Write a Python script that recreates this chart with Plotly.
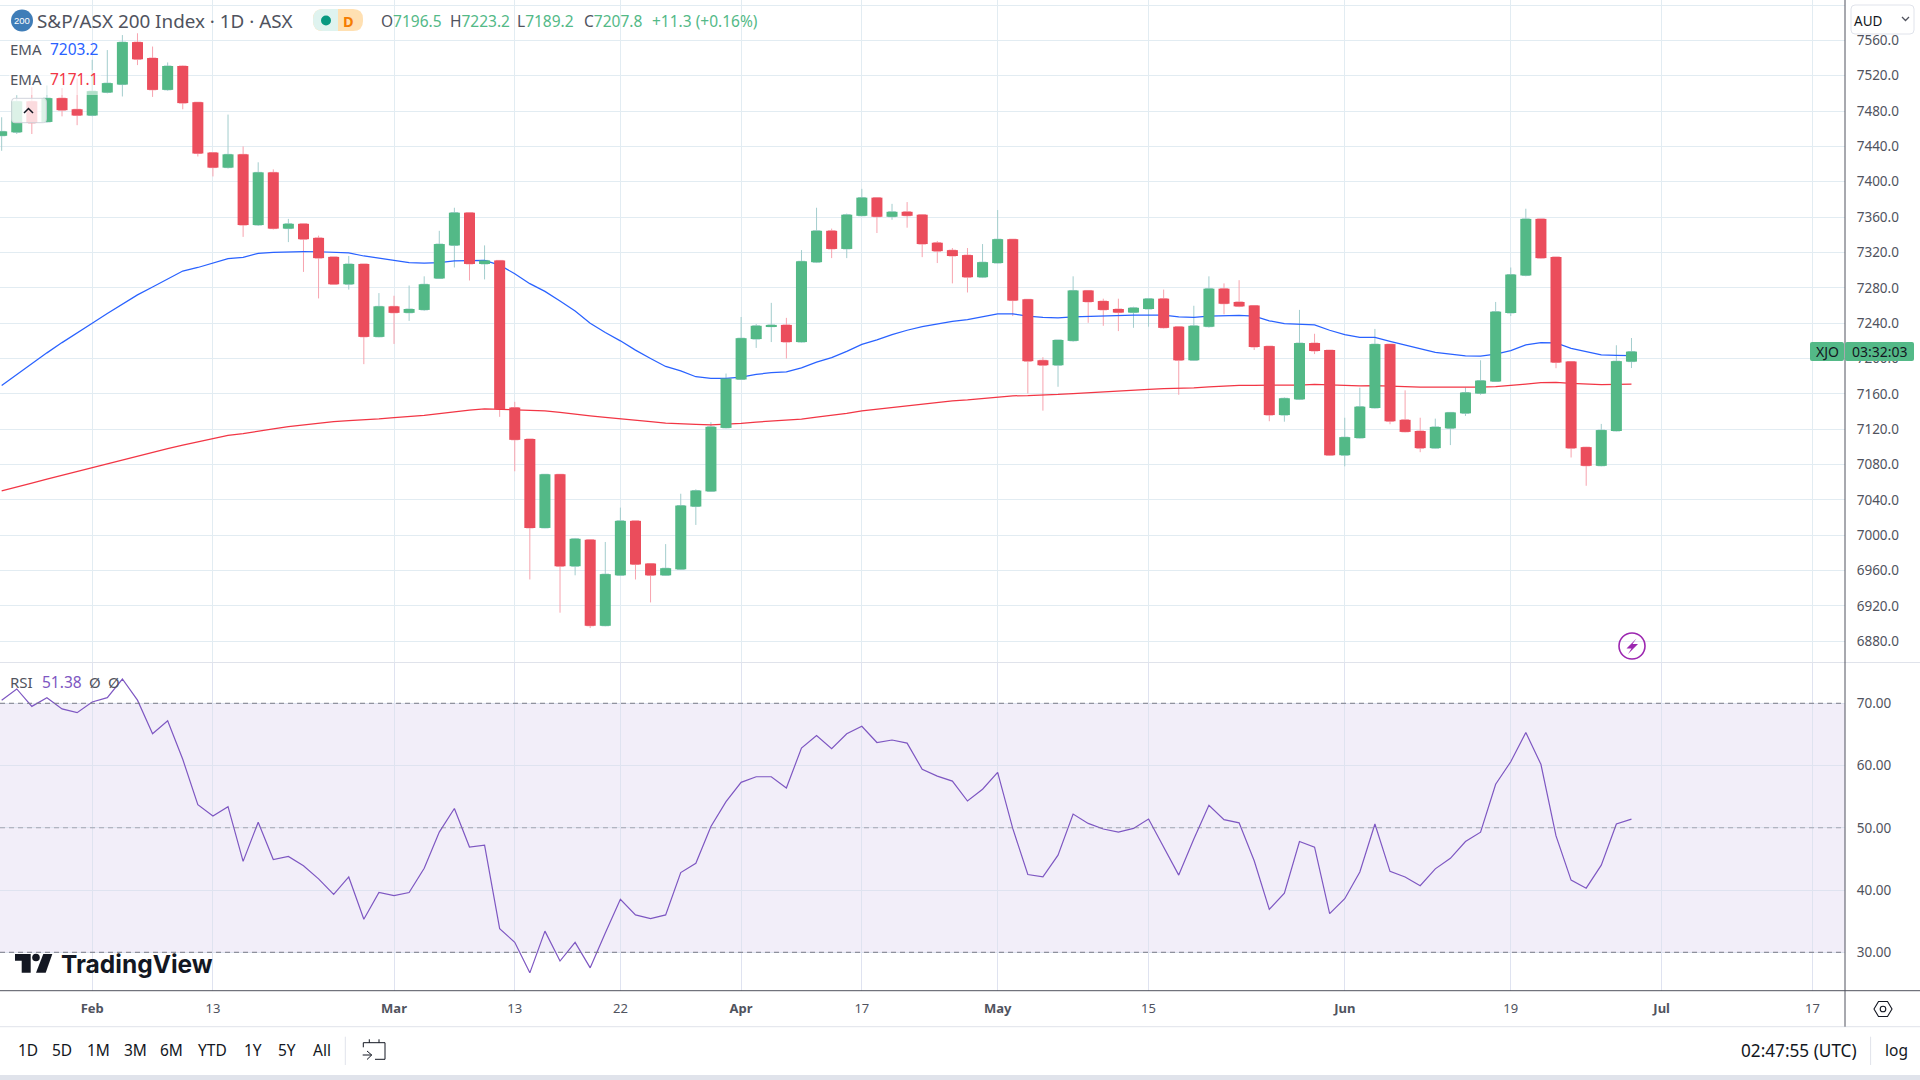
import plotly.graph_objects as go

W, H = 1920, 1080
FONT = "Noto Sans"
GREEN = "#53B987"
RED = "#EB4D5C"
WICK_UP = "#A3CDCD"
WICK_DN = "#F7A3AE"
TEXT = "#50535E"
DARK = "#131722"
PURPLE = "#7E57C2"
BLUE = "#2962FF"
EMA_RED = "#F23645"

bars = list(range(109))

opens = [7452,7456,7491,7467.7,7494.6,7482,7475,7501,7510,7558,7540,7504,7531,7490,7433,7416,7431,7351,7410.6,7347,
7352.4,7336.5,7315,7284,7307,7224.5,7259,7251.7,7255,7290.6,7328,7365,7307,7311,7144.5,7109,7008.3,7069,6965,6995,
6897.6,6954.7,7016.3,6968,6954.7,6961.5,7032.5,7049.7,7121.5,7176.3,7222,7236,7238,7218.6,7309,7344.5,7324,7361.5,7382,7360.4,
7366,7362.7,7331,7322.6,7317,7292,7308,7335,7267,7198,7192.4,7220,7277,7265,7256,7252,7256,7267.7,7236,7198,
7236,7279,7264,7260,7214,7136,7153.8,7217.5,7209.5,7090.6,7110,7144,7216.3,7130.6,7118,7098.6,7121,7138,7160.4,7174,
7251.5,7294,7358,7315,7196.6,7099.7,7078.6,7118,7196.5]
highs = [7473,7498,7507,7509,7506,7517,7538,7549,7566,7568,7553,7535,7531.5,7490,7433,7476,7440,7422,7414,7358,
7352.5,7339,7315,7316,7307,7274,7271,7282.6,7293,7344.5,7370.6,7365,7328,7311,7151,7109,7069,7069,6997,6995,
6992.4,7031.3,7016.3,6968,6990,7047,7052,7128,7183,7247,7239,7263,7246,7322.7,7370.6,7347,7364,7392,7382,7375,
7377,7363,7333,7325,7325,7329.5,7368,7335,7267,7201.5,7221,7293,7277,7267.7,7267.7,7258.6,7268,7278,7236,7259.7,
7293,7285,7288.6,7260,7214,7156,7255,7228,7209.5,7133,7167,7233.5,7216.3,7164,7133,7132,7139.5,7167,7198,7264,
7303,7369.5,7358,7315,7197,7100,7126,7215,7223.2]
lows = [7435,7454,7454,7467,7474,7464,7474,7500,7496.5,7532,7496,7503,7482,7428.6,7406,7415,7337.6,7350,7346,7331.7,
7298,7268,7284,7278,7193.6,7224,7216.5,7242.6,7254,7290,7303,7288.3,7289.5,7134,7072.4,6950,7008,6912.4,6954.7,6895,
6897,6954,6950,6924,6954,6961,7011.7,7049,7121,7176,7212,7218.6,7200,7218,7308,7313.6,7313.6,7361,7342,7357,
7348,7314.7,7308,7285,7274.7,7291,7307.5,7248,7160.4,7141,7168,7219,7240.4,7237,7231,7234.7,7236,7234,7159,7197.5,
7235,7250,7258,7209.6,7129,7128.5,7153,7205,7090,7078,7109.5,7143.5,7125.6,7116.5,7094,7098,7102,7135,7159,7173.5,
7248,7293,7313,7189,7088,7056,7078,7117.5,7189.2]
closes = [7457,7491,7466.5,7494.6,7481,7475,7502.5,7511.6,7558,7538.6,7504,7531,7489,7432,7416,7431,7351,7410.6,7347,7352.4,
7335,7313.6,7284,7307,7224.5,7259,7251.7,7256,7284,7329.5,7365,7307,7311,7143,7108,7008.3,7069,6965,6996,6897.6,
6956,7016.3,6967,6954.7,6962.7,7033.6,7050.6,7122.7,7177.4,7223,7237,7238,7218.6,7310,7344.5,7324,7362.7,7382,7360.4,7366,
7361.5,7329.5,7321.5,7316,7292,7309,7335,7265.6,7197,7192.4,7221,7277,7264,7255,7252,7257.4,7267.7,7234.7,7198,7237,
7279,7262,7259,7213,7136,7155,7217.5,7208.5,7090.6,7111,7145.5,7216.3,7129,7117,7098.6,7122.6,7139,7161.5,7175,7253,
7295,7358,7313.6,7195.5,7098.6,7078.6,7119,7197,7207.8]

ema_fast = [7169.5,7182,7194,7206.4,7218,7228.6,7240,7251,7262,7272,7281,7290,7299,7303,7307.6,7313,7314.4,7319,7320,7320.8,
7321,7320.8,7320,7319.6,7316,7313.6,7310.5,7308.6,7308,7308.6,7310.5,7311,7311,7305.6,7296,7284.7,7276,7265,7253.7,7240,
7229.4,7220,7209.5,7200,7191,7186,7179.4,7177.5,7177.5,7179,7182,7184,7185,7189.5,7196,7201,7208,7216,7221,7227,
7232,7236,7239,7242,7244,7247,7250.6,7250.6,7248,7246.5,7246,7247,7247.6,7248.3,7248.7,7249,7249,7249,7247,7246.5,
7248,7248.4,7248.7,7248,7242.6,7239.6,7239,7238,7232,7227,7224,7224,7219.5,7215.4,7211,7207,7205,7203,7202.6,7205,
7209,7215.4,7218,7217.6,7211.5,7208,7204,7203.6,7203.2]
ema_slow = [7050.3,7054.4,7059,7063.6,7068,7072.4,7076.6,7081,7085.4,7090,7093.8,7098,7102,7105.5,7109,7113,7115,7118,7120.4,7123,
7125,7126.6,7128.5,7129.7,7130.4,7131.6,7133,7134.2,7135.7,7137.6,7140,7141.7,7143,7142.6,7142,7141.5,7140.7,7139,7137.4,7135,
7133.3,7132,7130.4,7128.6,7127,7126,7125.6,7125,7125.6,7126.7,7128,7129,7130,7131.5,7133.7,7135.6,7137.8,7140.7,7142.6,7144.8,
7147,7148.5,7150.4,7152.2,7153.3,7154.8,7156.6,7157.8,7158,7158.5,7159.3,7160.4,7161.5,7162.2,7163,7164,7165.2,7166,7166,7166.7,
7167.8,7169,7169.7,7169.7,7169.7,7169.7,7170,7170.8,7170,7169.3,7169,7169.3,7169,7168.2,7167.5,7167.5,7167,7167,7167.5,7168.2,
7169.3,7171,7172.7,7173,7172,7171,7170.4,7170.8,7171.1]
rsi = [70.5,72.3,69.5,70.9,69.1,68.5,70.2,70.9,73.9,70.5,65.1,67.2,61,53.7,51.9,53.4,44.6,50.9,44.9,45.4,
43.9,41.8,39.3,42.1,35.3,39.6,39.1,39.6,43.5,49.3,53.1,46.9,47.2,33.8,31.6,26.7,33.4,28.6,31.6,27.5,
33.1,38.5,36,35.4,36,42.8,44.3,50.2,54.2,57.3,58.2,58.2,56.4,62.8,64.8,62.7,65.1,66.3,63.7,64.1,
63.6,59.4,58.3,57.5,54.3,56.2,58.9,49.9,42.5,42.1,45.6,52.2,50.7,49.8,49.3,49.9,51.4,46.9,42.4,48.2,
53.6,51.3,50.8,44.7,36.9,39.5,47.8,46.9,36.2,38.6,42.9,50.6,43,42.1,40.7,43.4,45.1,47.8,49.3,57,
60.6,65.3,60.2,48.7,41.6,40.3,44,50.6,51.38]

x_tick_bars = [6,14,26,34,41,49,57,66,76,89,100,110,120]
x_tick_labels = ["<b>Feb</b>","13","<b>Mar</b>","13","22","<b>Apr</b>","17","<b>May</b>","15","<b>Jun</b>","19","<b>Jul</b>","17"]
price_ticks = list(range(6880, 7601, 40))
price_labels = [f"{v:.1f}" for v in price_ticks]
rsi_ticks = [30, 40, 50, 60, 70]
rsi_labels = [f"{v:.2f}" for v in rsi_ticks]
range_buttons = ["1D","5D","1M","3M","6M","YTD","1Y","5Y","All"]
range_button_x = [27.8,62,98.8,135,171.4,212.7,252.7,287,321.6]
ohlc_letters = ["O", "H", "L", "C"]
ohlc_values = ["7196.5", "7223.2", "7189.2", "7207.8"]
ohlc_x = [381, 450, 516.5, 584]
change_text = "+11.3 (+0.16%)"

PX = lambda x: x / W
PY = lambda y: 1 - y / H
RIGHT = 1845
PANE_BOTTOM = 662
RSI_TOP = 663
RSI_BOTTOM = 990.7

fig = go.Figure()
body_top = [max(o, c) for o, c in zip(opens, closes)]
body_bot = [min(o, c) for o, c in zip(opens, closes)]
body_h = [t - b for t, b in zip(body_top, body_bot)]
body_col = [GREEN if c >= o else RED for o, c in zip(opens, closes)]

fig.add_trace(go.Candlestick(x=bars, open=opens, high=highs, low=lows, close=closes, yaxis="y", xaxis="x", showlegend=False,
    hoverinfo="skip", whiskerwidth=0,
    increasing=dict(line=dict(color=WICK_UP, width=1), fillcolor=GREEN),
    decreasing=dict(line=dict(color=WICK_DN, width=1), fillcolor=RED)))
fig.add_trace(go.Scatter(x=bars, y=ema_slow, mode="lines", line=dict(color=EMA_RED, width=1.25), yaxis="y", xaxis="x", showlegend=False, hoverinfo="skip"))
fig.add_trace(go.Scatter(x=bars, y=ema_fast, mode="lines", line=dict(color=BLUE, width=1.25), yaxis="y", xaxis="x", showlegend=False, hoverinfo="skip"))
fig.add_trace(go.Bar(x=bars, y=body_h, base=body_bot, width=0.73, marker=dict(color=body_col, line=dict(width=0)),
                     yaxis="y3", xaxis="x", showlegend=False, hoverinfo="skip"))
fig.add_trace(go.Scatter(x=bars, y=rsi, mode="lines", line=dict(color=PURPLE, width=1.2), yaxis="y2", xaxis="x2", showlegend=False, hoverinfo="skip"))

shapes = []
def rect(x0, y0, x1, y1, fill, line="rgba(0,0,0,0)", lw=0):
    shapes.append(dict(type="rect", xref="paper", yref="paper", x0=PX(x0), x1=PX(x1), y0=PY(y0), y1=PY(y1),
                       fillcolor=fill, line=dict(color=line, width=lw)))
def hline(y, x0, x1, color, lw=1, dash="solid"):
    shapes.append(dict(type="line", xref="paper", yref="paper", x0=PX(x0), x1=PX(x1), y0=PY(y), y1=PY(y),
                       line=dict(color=color, width=lw, dash=dash)))
def vline(x, y0, y1, color, lw=1):
    shapes.append(dict(type="line", xref="paper", yref="paper", x0=PX(x), x1=PX(x), y0=PY(y0), y1=PY(y1),
                       line=dict(color=color, width=lw)))
def poly(points, fill="rgba(0,0,0,0)", line="rgba(0,0,0,0)", lw=0, close=True):
    d = "M " + " L ".join(f"{PX(x):.6f},{PY(y):.6f}" for x, y in points) + (" Z" if close else "")
    shapes.append(dict(type="path", xref="paper", yref="paper", path=d, fillcolor=fill, line=dict(color=line, width=lw)))
def rrect(x0, y0, x1, y1, r, fill, line="rgba(0,0,0,0)", lw=0):
    X = PX; Y = PY
    d = (f"M {X(x0+r)},{Y(y0)} L {X(x1-r)},{Y(y0)} Q {X(x1)},{Y(y0)} {X(x1)},{Y(y0+r)} L {X(x1)},{Y(y1-r)} "
         f"Q {X(x1)},{Y(y1)} {X(x1-r)},{Y(y1)} L {X(x0+r)},{Y(y1)} Q {X(x0)},{Y(y1)} {X(x0)},{Y(y1-r)} "
         f"L {X(x0)},{Y(y0+r)} Q {X(x0)},{Y(y0)} {X(x0+r)},{Y(y0)} Z")
    shapes.append(dict(type="path", xref="paper", yref="paper", path=d, fillcolor=fill, line=dict(color=line, width=lw)))
def circle(cx, cy, r, fill="rgba(0,0,0,0)", line="rgba(0,0,0,0)", lw=0):
    shapes.append(dict(type="circle", xref="paper", yref="paper", x0=PX(cx-r), x1=PX(cx+r), y0=PY(cy+r), y1=PY(cy-r),
                       fillcolor=fill, line=dict(color=line, width=lw)))

# RSI band and levels
shapes.append(dict(type="rect", xref="x2 domain", yref="y2", x0=0, x1=1, y0=30, y1=70, layer="below",
                   fillcolor="rgba(126,87,194,0.1)", line=dict(width=0)))
for lvl, col in [(70, "#787B86"), (30, "#787B86"), (50, "rgba(120,123,134,0.6)")]:
    shapes.append(dict(type="line", xref="x2 domain", yref="y2", x0=0, x1=1, y0=lvl, y1=lvl, line=dict(color=col, width=1, dash="5px,4px")))

# frame lines
hline(662.5, 0, W, "#E0E3EB")
hline(990.7, 0, W, "#50535E")
hline(1026.7, 0, W, "#E0E3EB")
vline(RIGHT, 0, 1026.7, "#50535E")
rect(0, 1075, W, 1080, "#E0E3EB")

# legend backdrop and collapse button
rect(9, 70, 101, 95, "rgba(255,255,255,0.55)")
rrect(11.7, 98.3, 46.3, 122.7, 3, "rgba(255,255,255,0.8)", "#D1D4DC", 1)
poly([(24, 113), (28.5, 108.5), (33, 113)], line=DARK, lw=1.5, close=False)

# symbol badge and status pill
circle(22, 20.5, 11, fill="#3F7DB8")
rrect(313, 9, 363, 31, 10, "#FFE0B2")
d = (f"M {PX(338)},{PY(9)} L {PX(323)},{PY(9)} Q {PX(313)},{PY(9)} {PX(313)},{PY(20)} "
     f"Q {PX(313)},{PY(31)} {PX(323)},{PY(31)} L {PX(338)},{PY(31)} Z")
shapes.append(dict(type="path", xref="paper", yref="paper", path=d, fillcolor="#DFF3EF", line=dict(width=0)))
circle(326, 20.5, 5, fill="#089981")

# currency box
rrect(1851, 5, 1914, 34, 4, "#FFFFFF", "#E0E3EB", 1)
poly([(1902, 17), (1905.5, 20.5), (1909, 17)], line="#50535E", lw=1.3, close=False)

# last price tag
rrect(1810, 342, 1844, 361, 2, GREEN)
rrect(1845, 342, 1914, 361, 2, GREEN)

# alert icon
circle(1632, 646, 13, line="#9C27B0", lw=1.6)
poly([(1636.5, 638.5), (1626.5, 648.5), (1631.5, 648.5), (1628, 654), (1638, 644), (1632.5, 644)], fill="#9C27B0")

# TradingView logo
poly([(15, 954), (30.7, 954), (30.7, 972.7), (21.7, 972.7), (21.7, 960.7), (15, 960.7)], fill=DARK)
circle(36, 957.5, 3.8, fill=DARK)
poly([(43.3, 954), (52.3, 954), (45.7, 972.7), (36, 972.7)], fill=DARK)

# toolbar
vline(345.3, 1036.7, 1065, "#E0E3EB")
vline(1870.6, 1036.7, 1065, "#E0E3EB")
poly([(363.3, 1047.3), (363.3, 1042.7), (385, 1042.7), (385, 1059.3), (375, 1059.3)], line=DARK, lw=1, close=False)
vline(369.3, 1039.3, 1042.7, DARK)
vline(379, 1039.3, 1042.7, DARK)
poly([(362.7, 1055), (371.7, 1055)], line=DARK, lw=1, close=False)
poly([(367, 1051), (371.7, 1055), (367, 1059.5)], line=DARK, lw=1, close=False)
poly([(1874, 1009), (1878.5, 1001.5), (1887.5, 1001.5), (1892, 1009), (1887.5, 1016.5), (1878.5, 1016.5)], line=DARK, lw=1.1)
circle(1883, 1009, 2.8, line=DARK, lw=1.1)

anns = []
def text(s, x, y, size=13, color=TEXT, anchor="left", family=FONT):
    anns.append(dict(text=s, x=PX(x), y=PY(y), xref="paper", yref="paper", showarrow=False, xanchor=anchor, yanchor="middle",
                     font=dict(family=family, size=size, color=color), borderpad=0, borderwidth=0))

text("200", 22, 20.5, 9.5, "#FFFFFF", "center", "Liberation Sans")
text("S&amp;P/ASX 200 Index · 1D · ASX", 37, 21, 18.85, TEXT)
text("<b>D</b>", 348, 20.5, 14.5, "#F57C00", "center")
num = lambda v: f'<span style="color:{GREEN}">{v}</span>'
for letter, value, xp in zip(ohlc_letters, ohlc_values, ohlc_x):
    text(letter + num(value), xp, 21.5, 15.5)
text(num(change_text), 652, 21.5, 15.5)
text("EMA", 10, 49.5, 15)
text("7203.2", 50, 49.5, 15.5, BLUE)
text("EMA", 10, 79.5, 15)
text("7171.1", 50, 79.5, 15.5, EMA_RED)
text("RSI", 10, 682, 15)
text("51.38", 42, 682, 15.5, PURPLE)
text("Ø", 89, 682, 15)
text("Ø", 108, 682, 15)
text("AUD", 1854, 21, 13.5, DARK)
text("XJO", 1827, 351.5, 14, DARK, "center")
text("03:32:03", 1880, 351.5, 14, DARK, "center")
text("<b>TradingView</b>", 60.5, 964, 24.5, DARK, family="Inter")
for lab, xp in zip(range_buttons, range_button_x):
    text(lab, xp, 1050, 15.5, DARK, "center")
text("02:47:55 (UTC)", 1799, 1050, 17.2, DARK, "center")
text("log", 1896, 1050, 15.5, DARK, "center")

tickfont = dict(family=FONT, size=13.5, color=TEXT)
grid_price = "#E2ECF2"
grid_rsi = "#DFE3F0"
xcommon = dict(range=[-0.11, 122.15], domain=[0, RIGHT / W], tickmode="array", tickvals=x_tick_bars, showline=False,
               zeroline=False, showgrid=True)

fig.update_layout(
    width=W, height=H, margin=dict(l=0, r=0, t=0, b=0), autosize=False,
    paper_bgcolor="#FFFFFF", plot_bgcolor="rgba(0,0,0,0)", showlegend=False, hovermode=False,
    xaxis=dict(anchor="y", ticktext=x_tick_labels, showticklabels=False, ticks="", gridcolor=grid_price,
               rangeslider=dict(visible=False), **xcommon),
    xaxis2=dict(anchor="y2", ticktext=x_tick_labels, showticklabels=True, ticks="outside", ticklen=5.5, tickcolor="rgba(0,0,0,0)",
                tickfont=dict(family=FONT, size=13, color=TEXT), tickangle=0, gridcolor=grid_rsi, matches="x", **xcommon),
    yaxis=dict(anchor="x", side="right", domain=[1 - PANE_BOTTOM / H, 1], range=[6856.6, 7605.66], type="linear",
               tickmode="array", tickvals=price_ticks, ticktext=price_labels, gridcolor=grid_price, showline=False, zeroline=False,
               ticks="outside", ticklen=8, tickcolor="rgba(0,0,0,0)", tickfont=tickfont),
    yaxis2=dict(anchor="x2", side="right", domain=[1 - RSI_BOTTOM / H, 1 - RSI_TOP / H], range=[23.83, 76.47],
                tickmode="array", tickvals=rsi_ticks, ticktext=rsi_labels, gridcolor=grid_rsi, showline=False, zeroline=False,
                ticks="outside", ticklen=8, tickcolor="rgba(0,0,0,0)", tickfont=tickfont),
    yaxis3=dict(overlaying="y", matches="y", anchor="x", side="right", visible=False, showgrid=False),
    shapes=shapes, annotations=anns,
)

fig.write_html("out.html", config={"displayModeBar": False},
               post_script="document.body.style.margin='0';document.documentElement.style.overflow='hidden';")
